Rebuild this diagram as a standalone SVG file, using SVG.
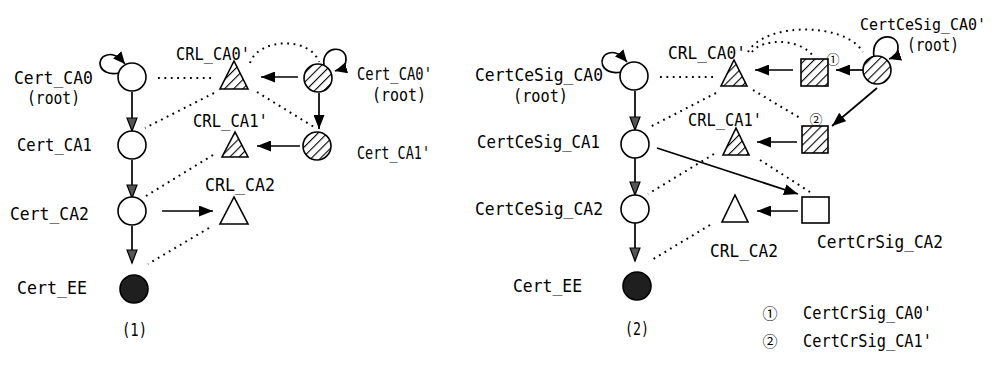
<svg xmlns="http://www.w3.org/2000/svg" width="996" height="371" viewBox="0 0 996 371">
  <style>
    .lbl { font-family: "DejaVu Sans Mono", "Liberation Mono", monospace; font-size: 17px; fill: #000; }
    .lbl.sm { font-size: 15.5px; }
    .num { font-family: "Noto Sans CJK KR", "DejaVu Sans", sans-serif; fill: #000; }
    .node { stroke: #000; stroke-width: 1.6; fill: #fff; }
    .hatched { fill: url(#hatch); }
    .dark { fill: #1f1f1f; }
    .solid { stroke: #000; stroke-width: 1.7; fill: none; }
    .dot { stroke: #000; stroke-width: 2; fill: none; stroke-dasharray: 1.8 4.6; }
  </style>
  <defs>
    <pattern id="hatch" patternUnits="userSpaceOnUse" width="6.5" height="6.5" patternTransform="rotate(45)">
      <rect width="6.5" height="6.5" fill="#fff"/>
      <line x1="0" y1="0" x2="0" y2="6.5" stroke="#000" stroke-width="2.2"/>
    </pattern>
    <marker id="ah" markerUnits="userSpaceOnUse" markerWidth="15" markerHeight="11" refX="14" refY="5.5" orient="auto">
      <path d="M0,0 L14,5.5 L0,11 z" fill="#000"/>
    </marker>
    <marker id="ahv" markerUnits="userSpaceOnUse" markerWidth="16" markerHeight="12" refX="14" refY="6" orient="auto">
      <path d="M1,1 L14,6 L1,11 z" fill="#555" stroke="#000" stroke-width="1.2"/>
    </marker>
    <marker id="ahs" markerUnits="userSpaceOnUse" markerWidth="13" markerHeight="11" refX="12" refY="5.5" orient="auto">
      <path d="M0,0 L12,5.5 L0,11 z" fill="#000"/>
    </marker>
  </defs>

  <!-- connectors -->
  <g id="connectors">
    <!-- panel (1): chain of certificates -->
    <line class="solid" x1="132" y1="92" x2="132" y2="131" marker-end="url(#ahv)"/>
    <line class="solid" x1="132" y1="160" x2="132" y2="198" marker-end="url(#ahv)"/>
    <line class="solid" x1="132" y1="226" x2="132" y2="263" marker-end="url(#ahv)"/>
    <line class="solid" x1="162" y1="211" x2="213" y2="211" marker-end="url(#ah)"/>
    <line class="solid" x1="298" y1="77" x2="261" y2="77" marker-end="url(#ah)"/>
    <line class="solid" x1="319" y1="93" x2="319" y2="129" marker-end="url(#ah)"/>
    <line class="solid" x1="300" y1="146" x2="257" y2="146" marker-end="url(#ah)"/>
    <path class="solid" d="M119,73 C98,77 95,58 107,55 C114,53 119,57 125,64" marker-end="url(#ahs)"/>
    <path class="solid" d="M324,65 C321,46 347,44 346,60 Q346,68 335,71" marker-end="url(#ahs)"/>

    <line class="dot" x1="158" y1="78" x2="214" y2="78"/>
    <line class="dot" x1="214" y1="93" x2="145" y2="128"/>
    <line class="dot" x1="213" y1="155" x2="146" y2="196"/>
    <line class="dot" x1="209" y1="228" x2="148" y2="264"/>
    <path class="dot" d="M250,63 C258,38 310,36 319,62"/>
    <line class="dot" x1="257" y1="92" x2="314" y2="127"/>

    <!-- panel (2): chain with cross signatures -->
    <line class="solid" x1="635" y1="91" x2="635" y2="130" marker-end="url(#ahv)"/>
    <line class="solid" x1="635" y1="158" x2="635" y2="195" marker-end="url(#ahv)"/>
    <line class="solid" x1="635" y1="223" x2="635" y2="261" marker-end="url(#ahv)"/>
    <line class="solid" x1="657" y1="148" x2="798" y2="194" marker-end="url(#ah)"/>
    <line class="solid" x1="798" y1="211" x2="757" y2="211" marker-end="url(#ah)"/>
    <line class="solid" x1="797" y1="142" x2="757" y2="142" marker-end="url(#ah)"/>
    <line class="solid" x1="877" y1="88" x2="832" y2="126" marker-end="url(#ah)"/>
    <line class="solid" x1="863" y1="70" x2="836" y2="70" marker-end="url(#ah)"/>
    <line class="solid" x1="793" y1="70" x2="755" y2="70" marker-end="url(#ah)"/>
    <path class="solid" d="M621,72 C600,76 597,56 609,53 C616,51 621,55 627,62" marker-end="url(#ahs)"/>
    <path class="solid" d="M874,57 C870,33 899,31 898,48 Q898,56 889,59" marker-end="url(#ahs)"/>

    <line class="dot" x1="660" y1="77" x2="714" y2="77"/>
    <line class="dot" x1="716" y1="93" x2="648" y2="128"/>
    <line class="dot" x1="714" y1="154" x2="648" y2="194"/>
    <line class="dot" x1="710" y1="225" x2="650" y2="261"/>
    <path class="dot" d="M748,52 C765,22 845,22 863,52"/>
    <path class="dot" d="M752,52 C762,38 800,38 813,56"/>
    <line class="dot" x1="753" y1="90" x2="800" y2="118"/>
    <line class="dot" x1="760" y1="160" x2="810" y2="192"/>
  </g>

  <!-- panel (1) nodes -->
  <g id="cert_ca0">
    <circle class="node" cx="132" cy="77" r="14"/>
    <text class="lbl" x="14" y="84" textLength="79" lengthAdjust="spacingAndGlyphs">Cert_CA0</text>
    <text class="lbl" x="27" y="104" textLength="53" lengthAdjust="spacingAndGlyphs">(root)</text>
  </g>
  <g id="cert_ca1">
    <circle class="node" cx="132" cy="145" r="14"/>
    <text class="lbl" x="17" y="151" textLength="75" lengthAdjust="spacingAndGlyphs">Cert_CA1</text>
  </g>
  <g id="cert_ca2">
    <circle class="node" cx="132" cy="211" r="14"/>
    <text class="lbl" x="10" y="220" textLength="79" lengthAdjust="spacingAndGlyphs">Cert_CA2</text>
  </g>
  <g id="cert_ee">
    <circle class="node dark" cx="134" cy="289" r="14"/>
    <text class="lbl" x="17" y="294" textLength="70" lengthAdjust="spacingAndGlyphs">Cert_EE</text>
  </g>
  <g id="crl_ca0p">
    <polygon class="node hatched" points="234,61 220,89 248,89"/>
    <text class="lbl" x="176" y="60" textLength="74" lengthAdjust="spacingAndGlyphs">CRL_CA0'</text>
  </g>
  <g id="crl_ca1p">
    <polygon class="node hatched" points="235,132 222,157 248,157"/>
    <text class="lbl" x="193" y="127" textLength="75" lengthAdjust="spacingAndGlyphs">CRL_CA1'</text>
  </g>
  <g id="crl_ca2">
    <polygon class="node" points="234,197 220,224 248,224"/>
    <text class="lbl" x="205" y="191" textLength="70" lengthAdjust="spacingAndGlyphs">CRL_CA2</text>
  </g>
  <g id="cert_ca0p">
    <circle class="node hatched" cx="318" cy="78" r="14"/>
    <text class="lbl" x="357" y="80" textLength="75" lengthAdjust="spacingAndGlyphs">Cert_CA0'</text>
    <text class="lbl" x="372" y="101" textLength="54" lengthAdjust="spacingAndGlyphs">(root)</text>
  </g>
  <g id="cert_ca1p">
    <circle class="node hatched" cx="317" cy="146" r="14"/>
    <text class="lbl" x="357" y="159" textLength="73" lengthAdjust="spacingAndGlyphs">Cert_CA1'</text>
  </g>
  <text class="lbl" x="122" y="336" textLength="25" lengthAdjust="spacingAndGlyphs">(1)</text>

  <!-- panel (2) nodes -->
  <g id="certcesig_ca0">
    <circle class="node" cx="634" cy="76" r="14"/>
    <text class="lbl" x="475" y="81" textLength="128" lengthAdjust="spacingAndGlyphs">CertCeSig_CA0</text>
    <text class="lbl" x="513" y="102" textLength="55" lengthAdjust="spacingAndGlyphs">(root)</text>
  </g>
  <g id="certcesig_ca1">
    <circle class="node" cx="635" cy="144" r="14"/>
    <text class="lbl" x="477" y="148" textLength="123" lengthAdjust="spacingAndGlyphs">CertCeSig_CA1</text>
  </g>
  <g id="certcesig_ca2">
    <circle class="node" cx="635" cy="209" r="14"/>
    <text class="lbl" x="475" y="215" textLength="128" lengthAdjust="spacingAndGlyphs">CertCeSig_CA2</text>
  </g>
  <g id="cert_ee2">
    <circle class="node dark" cx="637" cy="286" r="14"/>
    <text class="lbl" x="513" y="292" textLength="69" lengthAdjust="spacingAndGlyphs">Cert_EE</text>
  </g>
  <g id="crl_ca0p2">
    <polygon class="node hatched" points="734,60 721,86 747,86"/>
    <text class="lbl" x="668" y="59" textLength="78" lengthAdjust="spacingAndGlyphs">CRL_CA0'</text>
  </g>
  <g id="crl_ca1p2">
    <polygon class="node hatched" points="736,128 723,155 749,155"/>
    <text class="lbl" x="688" y="126" textLength="74" lengthAdjust="spacingAndGlyphs">CRL_CA1'</text>
  </g>
  <g id="crl_ca2_2">
    <polygon class="node" points="735,195 722,222 748,222"/>
    <text class="lbl" x="710" y="257" textLength="68" lengthAdjust="spacingAndGlyphs">CRL_CA2</text>
  </g>
  <g id="certcrsig_ca0p">
    <rect class="node hatched" x="801" y="59" width="27" height="27"/>
    <text class="num" x="833" y="63.5" font-size="13" text-anchor="middle">①</text>
  </g>
  <g id="certcrsig_ca1p">
    <rect class="node hatched" x="802" y="126" width="26" height="27"/>
    <text class="num" x="816" y="124" font-size="13" text-anchor="middle">②</text>
  </g>
  <g id="certcrsig_ca2">
    <rect class="node" x="802" y="197" width="27" height="26"/>
    <text class="lbl" x="817" y="248" textLength="126" lengthAdjust="spacingAndGlyphs">CertCrSig_CA2</text>
  </g>
  <g id="certcesig_ca0p">
    <circle class="node hatched" cx="877" cy="70" r="14"/>
    <text class="lbl sm" x="860" y="30" textLength="126" lengthAdjust="spacingAndGlyphs">CertCeSig_CA0'</text>
    <text class="lbl" x="907" y="51" textLength="52" lengthAdjust="spacingAndGlyphs">(root)</text>
  </g>
  <text class="lbl" x="625" y="335" textLength="24" lengthAdjust="spacingAndGlyphs">(2)</text>

  <!-- legend -->
  <g id="legend">
    <text class="num" x="770" y="319" font-size="15" text-anchor="middle">①</text>
    <text class="lbl" x="803" y="319" textLength="129" lengthAdjust="spacingAndGlyphs">CertCrSig_CA0'</text>
    <text class="num" x="770" y="347" font-size="15" text-anchor="middle">②</text>
    <text class="lbl" x="803" y="347" textLength="129" lengthAdjust="spacingAndGlyphs">CertCrSig_CA1'</text>
  </g>
</svg>
